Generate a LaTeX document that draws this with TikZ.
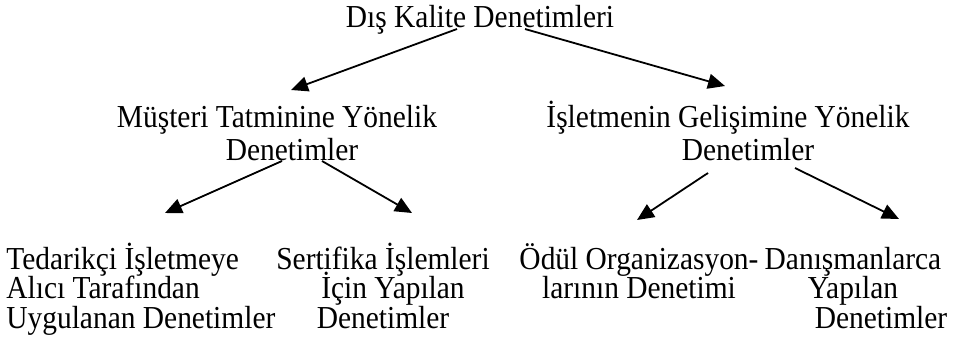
\documentclass[tikz,border=0pt]{standalone}
\usepackage{fontspec}
\setmainfont{Liberation Serif}[FakeStretch=0.92]
\usepackage{tikz}
\usetikzlibrary{arrows.meta}
\newcommand{\leaffont}{\fontsize{16}{14.75}\selectfont\lineskiplimit=-100pt\relax}
\tikzset{
  head/.style={inner sep=0pt, anchor=base, font=\fontsize{16}{16.5}\selectfont},
  mid/.style={head, text width=200pt, align=flush center},
  leaf/.style={inner sep=0pt, anchor=base, font=\leaffont},
  fl/.style={-{Triangle[length=8.5pt,width=7.5pt]}, line width=0.9pt, draw=black}
}

\begin{document}
\begin{tikzpicture}[x=0.5pt, y=-0.5pt]
  \useasboundingbox (0,0) rectangle (953,338);
  % top level
  \node[head] (dis) at (480,27) {Dış Kalite Denetimleri};
  % second level
  \node[mid] (mus) at (277,127) {Müşteri Tatminine Yönelik\\\hspace*{15pt}Denetimler};
  \node[mid] (gel) at (728,127) {İşletmenin Gelişimine Yönelik\\\hspace*{20pt}Denetimler};
  % leaves
  \node[leaf, text width=140pt, align=flush left, anchor=base west] (ted) at (6,269)
    {Tedarikçi İşletmeye\\Alıcı Tarafından\\Uygulanan Denetimler};
  \node[leaf, text width=120pt, align=flush center] (ser) at (383,269)
    {Sertifika İşlemleri\\\hspace*{10pt}İçin Yapılan\\Denetimler};
  \node[leaf, text width=125pt, align=flush center] (odl) at (639,269)
    {Ödül Organizasyon-\\larının Denetimi};
  \node[leaf, text width=100pt, align=flush center] (dan) at (853,269)
    {Danışmanlarca\\Yapılan\\\hspace*{28pt}Denetimler};
  % arrows
  \draw[fl] ([xshift=-11.5pt,yshift=-1pt]dis.base) -- ([xshift=7pt,yshift=18.5pt]mus.base);
  \draw[fl] ([xshift=22.5pt,yshift=-1pt]dis.base) -- ([xshift=-1.5pt,yshift=20.5pt]gel.base);
  \draw[fl] ([xshift=2.5pt,yshift=-17pt]mus.base) -- ([xshift=79.5pt,yshift=28pt]ted.base west);
  \draw[fl] ([xshift=22.5pt,yshift=-17pt]mus.base) -- ([xshift=14.5pt,yshift=28pt]ser.base);
  \draw[fl] ([xshift=-10pt,yshift=-23pt]gel.base) -- ([xshift=-1pt,yshift=24.5pt]odl.base);
  \draw[fl] ([xshift=33.5pt,yshift=-20.5pt]gel.base) -- ([xshift=23pt,yshift=25pt]dan.base);
\end{tikzpicture}
\end{document}
